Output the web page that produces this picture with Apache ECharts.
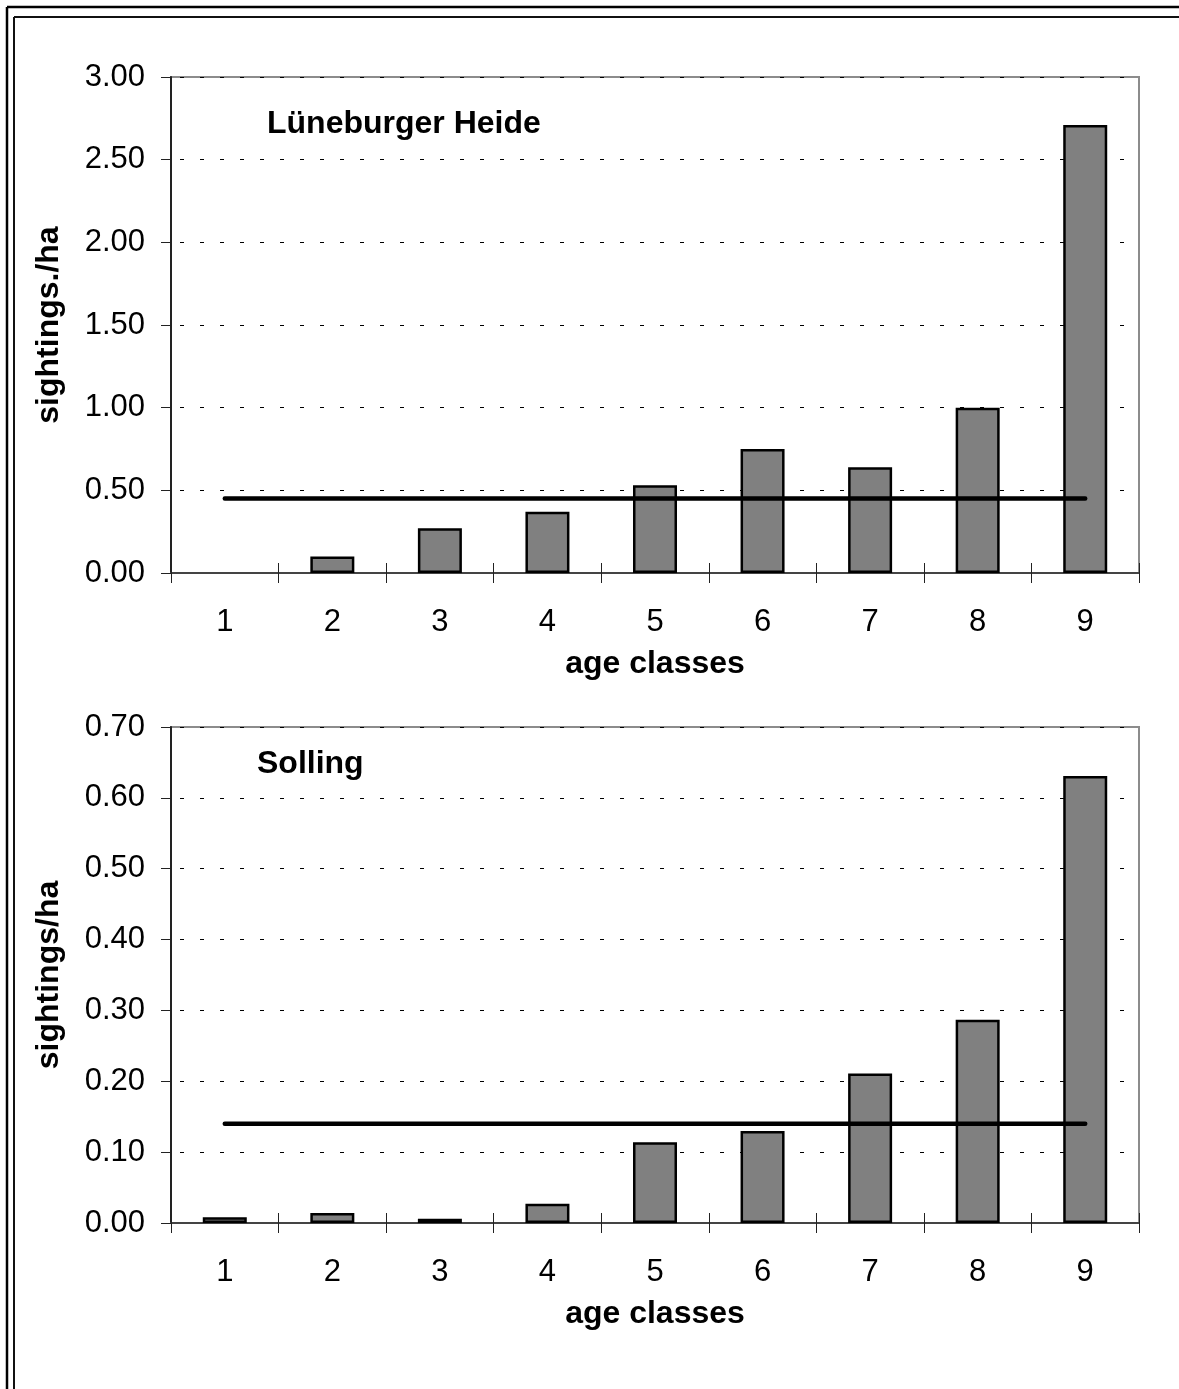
<!DOCTYPE html>
<html><head><meta charset="utf-8">
<script src="https://cdn.jsdelivr.net/npm/echarts@6/dist/echarts.min.js"></script>
<style>html,body{margin:0;padding:0;background:#fff}#c{width:1179px;height:1389px}</style>
</head><body><div id="c"></div>
<script>
// ---- data ----
const categories = ['1', '2', '3', '4', '5', '6', '7', '8', '9'];
const heideTitle = 'Lüneburger Heide';
const heideValues = [0, 0.10, 0.27, 0.37, 0.53, 0.75, 0.64, 1.00, 2.71];
const heideMean = [0.45, 0.45, 0.45, 0.45, 0.45, 0.45, 0.45, 0.45, 0.45];
const sollingTitle = 'Solling';
const sollingValues = [0.008, 0.014, 0.006, 0.027, 0.114, 0.130, 0.211, 0.287, 0.631];
const sollingMean = [0.14, 0.14, 0.14, 0.14, 0.14, 0.14, 0.14, 0.14, 0.14];
const xAxisName = 'age classes';
const heideYName = 'sightings./ha';
const sollingYName = 'sightings/ha';

// ---- chart ----
const FONT = '"Liberation Sans", Arial, sans-serif';
const chart = echarts.init(document.getElementById('c'), null, {renderer: 'canvas'});

function barData(vals) {
  return vals.map(v => v === 0 ? {value: v, itemStyle: {borderWidth: 0}} : v);
}
function mainX(gi) {
  return {
    type: 'category', gridIndex: gi, data: categories,
    axisLine: {show: true, lineStyle: {color: '#444', width: 2}},
    axisTick: {show: true, inside: false, length: 10, lineStyle: {color: '#222', width: 1}},
    axisLabel: {color: '#000', fontFamily: FONT, fontSize: 31, margin: 34},
    name: xAxisName, nameLocation: 'middle', nameGap: 75,
    nameTextStyle: {color: '#000', fontFamily: FONT, fontSize: 32, fontWeight: 'bold'},
    splitLine: {show: false}
  };
}
function innerX(gi) {
  return {
    type: 'category', gridIndex: gi, data: categories, position: 'bottom',
    axisLine: {show: false},
    axisTick: {show: true, inside: true, length: 10, lineStyle: {color: '#222', width: 1}},
    axisLabel: {show: false}, splitLine: {show: false}
  };
}
function yAx(gi, max, interval, name) {
  return {
    type: 'value', gridIndex: gi, min: 0, max: max, interval: interval,
    axisLine: {show: true, lineStyle: {color: '#222', width: 2}},
    axisTick: {show: true, inside: false, length: 10, lineStyle: {color: '#222', width: 1}},
    axisLabel: {color: '#000', fontFamily: FONT, fontSize: 31, margin: 26,
      formatter: v => v.toFixed(2)},
    splitLine: {show: true, lineStyle: {color: '#000', width: 1, type: [4, 16], dashOffset: 11}},
    name: name, nameLocation: 'middle', nameGap: 106, nameRotate: 90,
    nameTextStyle: {color: '#000', fontFamily: FONT, fontSize: 32, fontWeight: 'bold'}
  };
}
function bars(xi, yi, vals) {
  return {
    type: 'bar', xAxisIndex: xi, yAxisIndex: yi, data: barData(vals), barWidth: 44,
    itemStyle: {color: '#808080', borderColor: '#000', borderWidth: 2.5},
    z: 2, silent: true
  };
}
function meanLine(xi, yi, vals) {
  return {
    type: 'line', xAxisIndex: xi, yAxisIndex: yi, data: vals, symbol: 'none',
    lineStyle: {color: '#000', width: 4.5, cap: 'round'}, z: 3, silent: true
  };
}

chart.setOption({
  animation: false,
  backgroundColor: '#fff',
  grid: [
    {left: 171, right: 40, top: 77, height: 496, show: true, borderColor: '#8c8c8c', borderWidth: 2},
    {left: 171, right: 40, top: 727, height: 496, show: true, borderColor: '#8c8c8c', borderWidth: 2}
  ],
  xAxis: [mainX(0), mainX(1), innerX(0), innerX(1)],
  yAxis: [yAx(0, 3, 0.5, heideYName), yAx(1, 0.7, 0.1, sollingYName)],
  series: [
    bars(0, 0, heideValues), meanLine(0, 0, heideMean),
    bars(1, 1, sollingValues), meanLine(1, 1, sollingMean)
  ],
  graphic: [
    {type: 'line', shape: {x1: 7, y1: 7, x2: 1179, y2: 7}, style: {stroke: '#000', lineWidth: 2.5}},
    {type: 'line', shape: {x1: 7, y1: 7, x2: 7, y2: 1389}, style: {stroke: '#000', lineWidth: 2.5}},
    {type: 'line', shape: {x1: 14, y1: 17, x2: 1179, y2: 17}, style: {stroke: '#111', lineWidth: 2}},
    {type: 'line', shape: {x1: 14, y1: 17, x2: 14, y2: 1389}, style: {stroke: '#111', lineWidth: 2}},
    {type: 'text', left: 267, top: 108, style: {text: heideTitle, fill: '#000', font: 'bold 32px ' + FONT}},
    {type: 'text', left: 257, top: 748, style: {text: sollingTitle, fill: '#000', font: 'bold 32px ' + FONT}}
  ]
});
</script></body></html>
